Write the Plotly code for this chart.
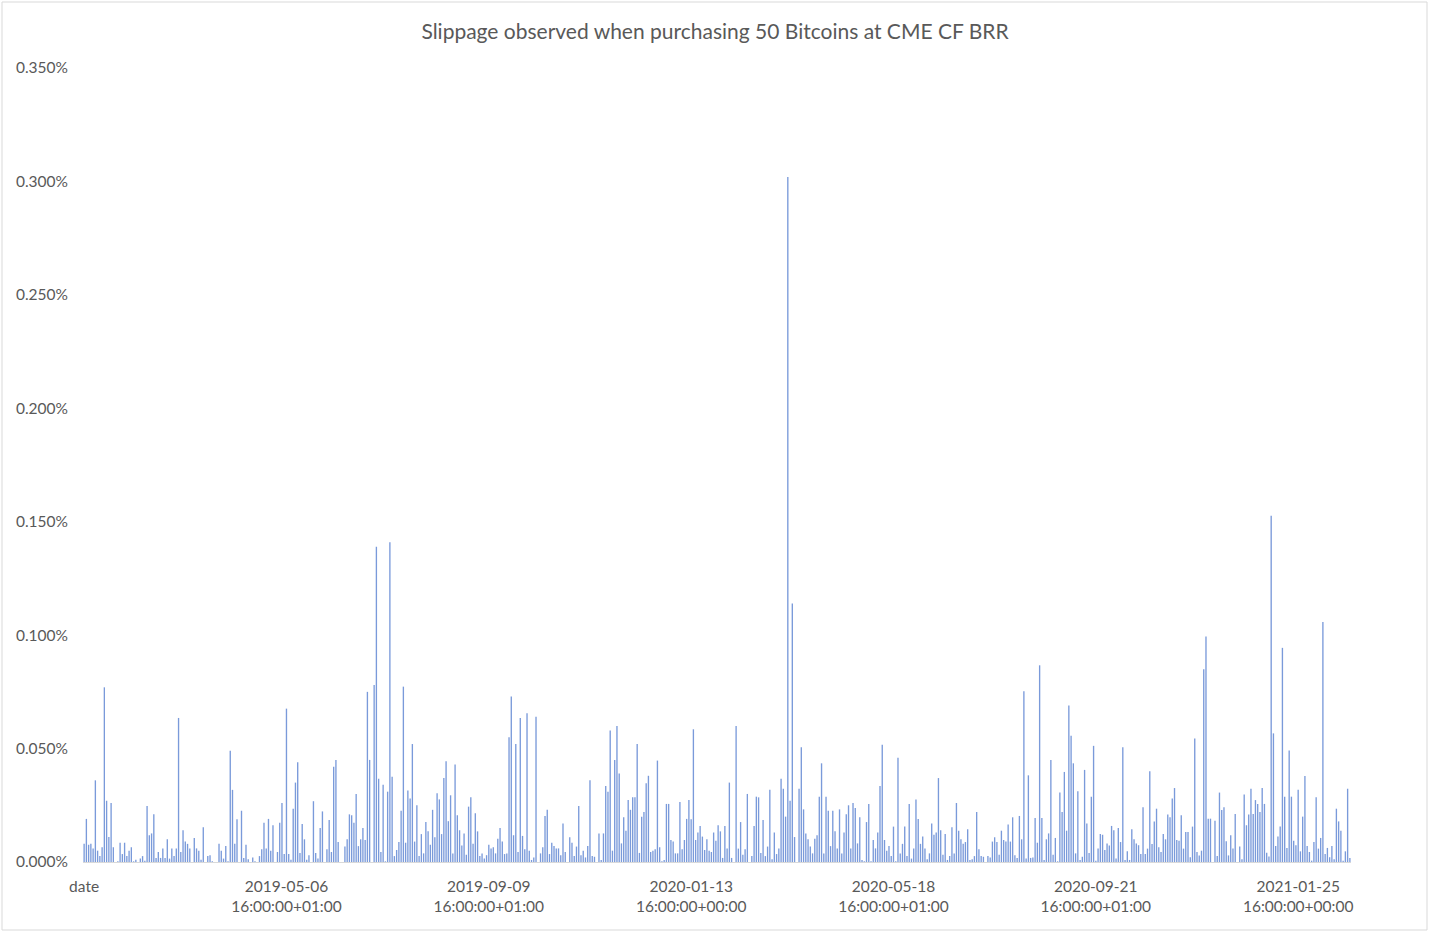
import datetime as dt
import pandas as pd
import plotly.graph_objects as go

TITLE = "Slippage observed when purchasing 50 Bitcoins at CME CF BRR"

# Slippage in percent, one value per trading day (first category is the header "date")
slippage_pct = [
    0.008, 0.019, 0.0076, 0.008, 0.006, 0.036, 0.005, 0.0026, 0.0065, 0.077,
    0.027, 0.011, 0.026, 0.0065, 0, 0.0003, 0.0085, 0.0035, 0.0085, 0.0026,
    0.005, 0.0065, 0.0003, 0.001, 0, 0.0015, 0.0026, 0.0006, 0.0247, 0.0118,
    0.0126, 0.021, 0.0018, 0.0044, 0.0018, 0.0059, 0.0018, 0.01, 0.0015, 0.0059,
    0.0026, 0.0059, 0.0635, 0.0044, 0.014, 0.009, 0.008, 0.006, 0, 0.0106,
    0.006, 0.005, 0.001, 0.0153, 0, 0.0026, 0.003, 0.0003, 0, 0,
    0.008, 0.005, 0.0015, 0.007, 0.0003, 0.049, 0.0318, 0.008, 0.0188, 0,
    0.0226, 0.0018, 0.0076, 0.0012, 0, 0.002, 0.0003, 0, 0.0026, 0.0056,
    0.0173, 0.0059, 0.019, 0.005, 0.0162, 0, 0.0044, 0.0173, 0.026, 0.0035,
    0.0676, 0.0035, 0.001, 0.0235, 0.035, 0.044, 0.004, 0.0168, 0.01, 0.001,
    0.003, 0, 0.0268, 0.004, 0.0015, 0.015, 0.0223, 0, 0.0056, 0.0185,
    0.0044, 0.042, 0.045, 0.0088, 0, 0, 0.0068, 0.01, 0.021, 0.0206,
    0.0173, 0.03, 0.007, 0.01, 0.015, 0.0097, 0.075, 0.045, 0, 0.078,
    0.139, 0.0367, 0.0044, 0.034, 0.0003, 0.031, 0.141, 0.0376, 0.0026, 0.0053,
    0.0088, 0.0226, 0.0773, 0.0085, 0.0315, 0.028, 0.052, 0.009, 0.025, 0.0026,
    0.0123, 0.0038, 0.0176, 0.0135, 0.0076, 0.023, 0.0109, 0.0303, 0.0276, 0.0123,
    0.037, 0.0444, 0.018, 0.0294, 0.0038, 0.043, 0.0206, 0.014, 0.0073, 0.0126,
    0.0032, 0.0244, 0.0285, 0.008, 0.0215, 0.0135, 0.0026, 0.0038, 0.0015, 0.003,
    0.0076, 0.0059, 0.0065, 0.0038, 0.0103, 0.015, 0.009, 0.0035, 0.0038, 0.055,
    0.073, 0.0118, 0.052, 0.0044, 0.0635, 0.0115, 0.0056, 0.0656, 0.005, 0.0009,
    0.002, 0.064, 0, 0.0038, 0.0065, 0.0203, 0.023, 0.0035, 0.0085, 0.007,
    0.006, 0.006, 0.003, 0.017, 0.0044, 0, 0.0109, 0.0085, 0.0026, 0.0068,
    0.0247, 0.003, 0.005, 0.002, 0.007, 0.036, 0.0026, 0.0023, 0, 0.0126,
    0.0009, 0.0126, 0.0335, 0.031, 0.058, 0.005, 0.045, 0.06, 0.039, 0.0082,
    0.0197, 0.0138, 0.0273, 0.023, 0.0285, 0.0285, 0.052, 0.004, 0.02, 0.022,
    0.0347, 0.038, 0.0044, 0.005, 0.0056, 0.0447, 0.0065, 0.0003, 0.0009, 0.0256,
    0.0256, 0.0097, 0.009, 0.0038, 0.0038, 0.0265, 0.0056, 0.0097, 0.019, 0.0273,
    0.0188, 0.0585, 0.0097, 0.013, 0.0159, 0.0112, 0.0053, 0.01, 0.005, 0.0044,
    0.013, 0.0094, 0.0162, 0.0135, 0.0018, 0.0159, 0.006, 0.035, 0.0018, 0,
    0.06, 0.0059, 0.0176, 0.0032, 0.0056, 0.03, 0, 0.0026, 0.0159, 0.0288,
    0.0285, 0.004, 0.0185, 0.0026, 0.0068, 0.0318, 0.0012, 0.013, 0.0035, 0.006,
    0.0367, 0.0323, 0.02, 0.302, 0.027, 0.114, 0.011, 0, 0.0323, 0.0506,
    0.0232, 0.0126, 0.01, 0.0068, 0.0038, 0.0103, 0.0118, 0.0288, 0.0435, 0.0038,
    0.0288, 0.0226, 0.007, 0.0226, 0.0135, 0.006, 0.0232, 0.0038, 0.013, 0.021,
    0.025, 0.006, 0.026, 0.0238, 0.0082, 0.0197, 0.0009, 0.0003, 0.0176, 0.0256,
    0.0003, 0.0097, 0.006, 0.013, 0.0335, 0.0517, 0.0097, 0.005, 0.007, 0.0026,
    0.0156, 0.0003, 0.046, 0.0038, 0.008, 0.0156, 0.0026, 0.0256, 0.0015, 0.0059,
    0.0276, 0.019, 0.008, 0.0112, 0.006, 0.0012, 0.0038, 0.017, 0.012, 0.013,
    0.037, 0.014, 0.0032, 0.0123, 0.0009, 0.0026, 0.0153, 0.0038, 0.026, 0.0138,
    0.01, 0.008, 0.0088, 0.0144, 0.0009, 0.0012, 0.0026, 0.022, 0.0056, 0.0026,
    0.0023, 0, 0.0026, 0.002, 0.009, 0.0109, 0.0088, 0.0032, 0.0138, 0.0097,
    0.009, 0.0165, 0.009, 0.0197, 0.003, 0.0018, 0.0203, 0.01, 0.0753, 0.0015,
    0.0382, 0.0018, 0.002, 0.0194, 0.0085, 0.0867, 0.0194, 0.0009, 0.01, 0.0126,
    0.045, 0.0032, 0.0106, 0.0003, 0.0306, 0.022, 0.0397, 0.0138, 0.069, 0.0556,
    0.0435, 0.0038, 0.0312, 0.0009, 0.0023, 0.0406, 0.017, 0.004, 0.0288, 0.0512,
    0.0006, 0.006, 0.0123, 0.012, 0.0053, 0.0082, 0.0073, 0.0159, 0.014, 0.0015,
    0.015, 0.0088, 0.0506, 0.0009, 0.0047, 0.0009, 0.0144, 0.01, 0.0082, 0.0074,
    0.0035, 0.0241, 0.0035, 0.0059, 0.04, 0.0079, 0.0179, 0.0235, 0.0065, 0.0044,
    0.0123, 0.01, 0.0209, 0.0197, 0.028, 0.0326, 0.0097, 0.0094, 0.0206, 0.0059,
    0.0132, 0.0132, 0.0021, 0.0156, 0.0544, 0.0044, 0.0029, 0.005, 0.085, 0.0994,
    0.0191, 0.0191, 0, 0.0182, 0.0026, 0.0306, 0.0229, 0.0241, 0.0091, 0.0029,
    0.0118, 0.0059, 0.0212, 0, 0.0068, 0.0012, 0.0297, 0.0162, 0.0209, 0.0323,
    0.0212, 0.0273, 0.0256, 0.022, 0.0326, 0.0256, 0.0041, 0.0024, 0.1526, 0.0567,
    0.0071, 0.0112, 0.0156, 0.0944, 0.0288, 0.0062, 0.0491, 0.0288, 0.0094, 0.0074,
    0.0318, 0.0047, 0.02, 0.0379, 0.0071, 0.0044, 0.0006, 0.0088, 0.0285, 0.0059,
    0.0106, 0.1058, 0.0035, 0.0062, 0.0021, 0.0071, 0.0012, 0.0235, 0.0179, 0.0138,
    0.0006, 0.0047, 0.0323, 0.0018,
]

# Category labels: header "date" followed by weekday dates at 16:00 London time
first_date = "2019-01-01"
label_every = 90
y_ticks = [0.0, 0.05, 0.10, 0.15, 0.20, 0.25, 0.30, 0.35]


def london_offset(d):
    bst = [(dt.date(2019, 3, 31), dt.date(2019, 10, 26)),
           (dt.date(2020, 3, 29), dt.date(2020, 10, 24)),
           (dt.date(2021, 3, 28), dt.date(2021, 10, 30))]
    return "+01:00" if any(a <= d <= b for a, b in bst) else "+00:00"


dates = pd.bdate_range(first_date, periods=len(slippage_pct) - 1)
categories = ["date"] + [f"{d:%Y-%m-%d} 16:00:00{london_offset(d.date())}" for d in dates]

tickvals = categories[::label_every]
ticktext = [c if c == "date" else c.replace(" ", "<br>") for c in tickvals]

fig = go.Figure(go.Bar(
    x=categories,
    y=slippage_pct,
    marker=dict(color="rgba(120,153,218,0.99)", line=dict(width=0)),
    hovertemplate="%{x}<br>%{y:.4f}%<extra></extra>",
))

grey = "#595959"
fig.update_layout(
    width=1430, height=935,
    paper_bgcolor="white", plot_bgcolor="white",
    margin=dict(l=83, r=79, t=68, b=73),
    bargap=0.4,
    showlegend=False,
    font=dict(family="Lato, 'Open Sans', sans-serif", color=grey, size=15.5),
    title=dict(text=TITLE, x=0.5, xanchor="center", y=1 - 32 / 935, yanchor="middle",
               font=dict(family="Lato, 'Open Sans', sans-serif", size=21, color=grey)),
    xaxis=dict(type="category", tickmode="array", tickvals=tickvals, ticktext=ticktext,
               showgrid=False, showline=True, linecolor="#D9D9D9", linewidth=1,
               ticks="", tickangle=0, ticklabelstandoff=10, zeroline=False,
               tickfont=dict(size=15.5, color=grey)),
    yaxis=dict(range=[0, 0.35], tickmode="array", tickvals=y_ticks,
               ticktext=[f"{v:.3f}%" for v in y_ticks],
               showgrid=False, showline=False, zeroline=False, ticks="",
               ticklabelstandoff=14, tickfont=dict(size=15.5, color=grey)),
    shapes=[dict(type="rect", xref="paper", yref="paper",
                 x0=(2 - 83) / 1268, x1=(1427 - 83) / 1268,
                 y0=(862 - 930) / 794, y1=(862 - 2) / 794,
                 line=dict(color="#D9D9D9", width=1), fillcolor="rgba(0,0,0,0)",
                 layer="below")],
)

fig.write_html("out.html", config={"displayModeBar": False},
               post_script="document.body.style.margin='0px';")
